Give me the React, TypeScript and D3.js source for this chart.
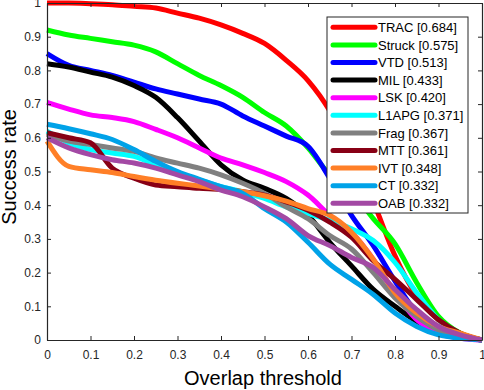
import { useEffect, useRef } from "react";
import * as d3 from "d3";

const thresholds = [0, 0.05, 0.1, 0.15, 0.2, 0.25, 0.3, 0.35, 0.4, 0.45, 0.5, 0.55, 0.6, 0.65, 0.7, 0.75, 0.8, 0.85, 0.9, 0.95, 1];

const trackers = ["TRAC", "Struck", "VTD", "MIL", "LSK", "L1APG", "Frag", "MTT", "IVT", "CT", "OAB"];
const aucScores = ["0.684", "0.575", "0.513", "0.433", "0.420", "0.371", "0.367", "0.361", "0.348", "0.332", "0.332"];
const colors = ["#ff0000", "#00ff00", "#0000ff", "#000000", "#ff00ff", "#00ffff", "#808080", "#880015", "#ff7f27", "#00a2e8", "#a349a4"];

const trac = [1.0, 1.0, 0.998, 0.995, 0.99, 0.985, 0.97, 0.955, 0.935, 0.91, 0.88, 0.83, 0.77, 0.68, 0.55, 0.41, 0.25, 0.13, 0.06, 0.02, 0];
const struck = [0.92, 0.905, 0.895, 0.885, 0.875, 0.855, 0.82, 0.785, 0.755, 0.72, 0.675, 0.635, 0.57, 0.49, 0.44, 0.36, 0.285, 0.17, 0.07, 0.02, 0];
const vtd = [0.85, 0.815, 0.8, 0.785, 0.765, 0.745, 0.73, 0.715, 0.7, 0.665, 0.635, 0.605, 0.575, 0.48, 0.37, 0.28, 0.175, 0.08, 0.03, 0.01, 0];
const mil = [0.82, 0.81, 0.795, 0.78, 0.755, 0.72, 0.66, 0.59, 0.52, 0.475, 0.45, 0.42, 0.37, 0.29, 0.22, 0.15, 0.1, 0.055, 0.025, 0.008, 0];
const lsk = [0.705, 0.685, 0.668, 0.66, 0.648, 0.625, 0.6, 0.57, 0.54, 0.52, 0.497, 0.47, 0.43, 0.37, 0.32, 0.24, 0.14, 0.06, 0.02, 0.005, 0];
const l1apg = [0.62, 0.585, 0.565, 0.555, 0.545, 0.52, 0.495, 0.475, 0.455, 0.44, 0.42, 0.395, 0.375, 0.355, 0.33, 0.295, 0.23, 0.14, 0.06, 0.015, 0];
const frag = [0.61, 0.59, 0.58, 0.57, 0.56, 0.54, 0.525, 0.51, 0.49, 0.465, 0.435, 0.395, 0.36, 0.31, 0.27, 0.2, 0.125, 0.07, 0.03, 0.01, 0];
const mtt = [0.615, 0.6, 0.585, 0.51, 0.48, 0.46, 0.455, 0.45, 0.447, 0.44, 0.43, 0.41, 0.385, 0.35, 0.305, 0.235, 0.18, 0.12, 0.06, 0.02, 0];
const ivt = [0.59, 0.515, 0.505, 0.497, 0.485, 0.474, 0.465, 0.457, 0.448, 0.44, 0.428, 0.412, 0.39, 0.37, 0.32, 0.24, 0.14, 0.08, 0.04, 0.02, 0];
const ct = [0.64, 0.627, 0.612, 0.595, 0.565, 0.53, 0.5, 0.477, 0.455, 0.435, 0.39, 0.35, 0.29, 0.225, 0.18, 0.135, 0.08, 0.04, 0.015, 0.005, 0];
const oab = [0.6, 0.57, 0.55, 0.535, 0.525, 0.51, 0.49, 0.47, 0.445, 0.425, 0.395, 0.36, 0.31, 0.28, 0.245, 0.215, 0.15, 0.09, 0.04, 0.015, 0];

const series = [trac, struck, vtd, mil, lsk, l1apg, frag, mtt, ivt, ct, oab];
const ticks = [0, 0.1, 0.2, 0.3, 0.4, 0.5, 0.6, 0.7, 0.8, 0.9, 1];

function Chart() {
  const ref = useRef<SVGSVGElement>(null);

  useEffect(() => {
    const svg = d3.select(ref.current);
    svg.selectAll("*").remove();

    const width = 484;
    const height = 390;
    const margin = { top: 3, right: 2, bottom: 50, left: 47 };
    const font = "Arial, 'Liberation Sans', sans-serif";
    const axisColor = "#262626";

    const x = d3.scaleLinear().domain([0, 1]).range([margin.left, width - margin.right]);
    const y = d3.scaleLinear().domain([0, 1]).range([height - margin.bottom, margin.top]);

    svg.attr("width", width).attr("height", height);

    svg.append("rect")
      .attr("width", width).attr("height", height).attr("fill", "#fff");

    const line = d3.line<number>()
      .x((_, i) => x(thresholds[i]))
      .y((d) => y(d))
      .curve(d3.curveMonotoneX);

    svg.append("g")
      .selectAll("path")
      .data(series)
      .join("path")
      .attr("d", (d) => line(d))
      .attr("fill", "none")
      .attr("stroke", (_, i) => colors[i])
      .attr("stroke-width", 5)
      .attr("stroke-linejoin", "round");

    const styleAxis = (g: any) => {
      g.select(".domain").attr("stroke", axisColor);
      g.selectAll(".tick line").attr("stroke", axisColor);
      g.selectAll(".tick text")
        .attr("fill", axisColor)
        .attr("font-size", 12)
        .attr("font-family", font);
    };

    svg.append("g")
      .attr("transform", `translate(0,${y(0)})`)
      .call(d3.axisBottom(x).tickValues(ticks).tickSize(-4).tickSizeOuter(0).tickPadding(10.5).tickFormat(d3.format("")))
      .call(styleAxis);

    svg.append("g")
      .attr("transform", `translate(0,${y(1)})`)
      .call(d3.axisTop(x).tickValues(ticks).tickSize(-4).tickSizeOuter(0).tickFormat(() => ""))
      .call(styleAxis);

    svg.append("g")
      .attr("transform", `translate(${x(0)},0)`)
      .call(d3.axisLeft(y).tickValues(ticks).tickSize(-4).tickSizeOuter(0).tickPadding(6).tickFormat(d3.format("")))
      .call(styleAxis);

    svg.append("g")
      .attr("transform", `translate(${x(1)},0)`)
      .call(d3.axisRight(y).tickValues(ticks).tickSize(-4).tickSizeOuter(0).tickFormat(() => ""))
      .call(styleAxis);

    svg.selectAll(".domain").attr("stroke-width", 1.2);

    // legend
    const legend = svg.append("g").attr("transform", "translate(327,17)");
    legend.append("rect")
      .attr("width", 141).attr("height", 196)
      .attr("fill", "#fff").attr("stroke", axisColor).attr("stroke-width", 1);

    const row = legend.selectAll("g.row")
      .data(trackers)
      .join("g")
      .attr("class", "row")
      .attr("transform", (_, i) => `translate(0,${10.3 + i * 17.6})`);

    row.append("line")
      .attr("x1", 6).attr("x2", 48)
      .attr("stroke", (_, i) => colors[i])
      .attr("stroke-width", 5)
      .attr("stroke-linecap", "round");

    row.append("text")
      .attr("x", 51).attr("dy", "0.36em")
      .attr("font-size", 13).attr("font-family", font)
      .attr("fill", "#000")
      .text((d, i) => `${d} [${aucScores[i]}]`);

    svg.append("text")
      .attr("x", 263).attr("y", 385)
      .attr("text-anchor", "middle")
      .attr("font-size", 20).attr("font-family", font)
      .attr("fill", "#000")
      .text("Overlap threshold");

    svg.append("text")
      .attr("transform", "translate(16,167) rotate(-90)")
      .attr("text-anchor", "middle")
      .attr("font-size", 20).attr("font-family", font)
      .attr("fill", "#000")
      .text("Success rate");
  }, []);

  return <svg ref={ref} style={{ position: "absolute", left: 0, top: 0 }}></svg>;
}

export default function App() {
  return <Chart />;
}
